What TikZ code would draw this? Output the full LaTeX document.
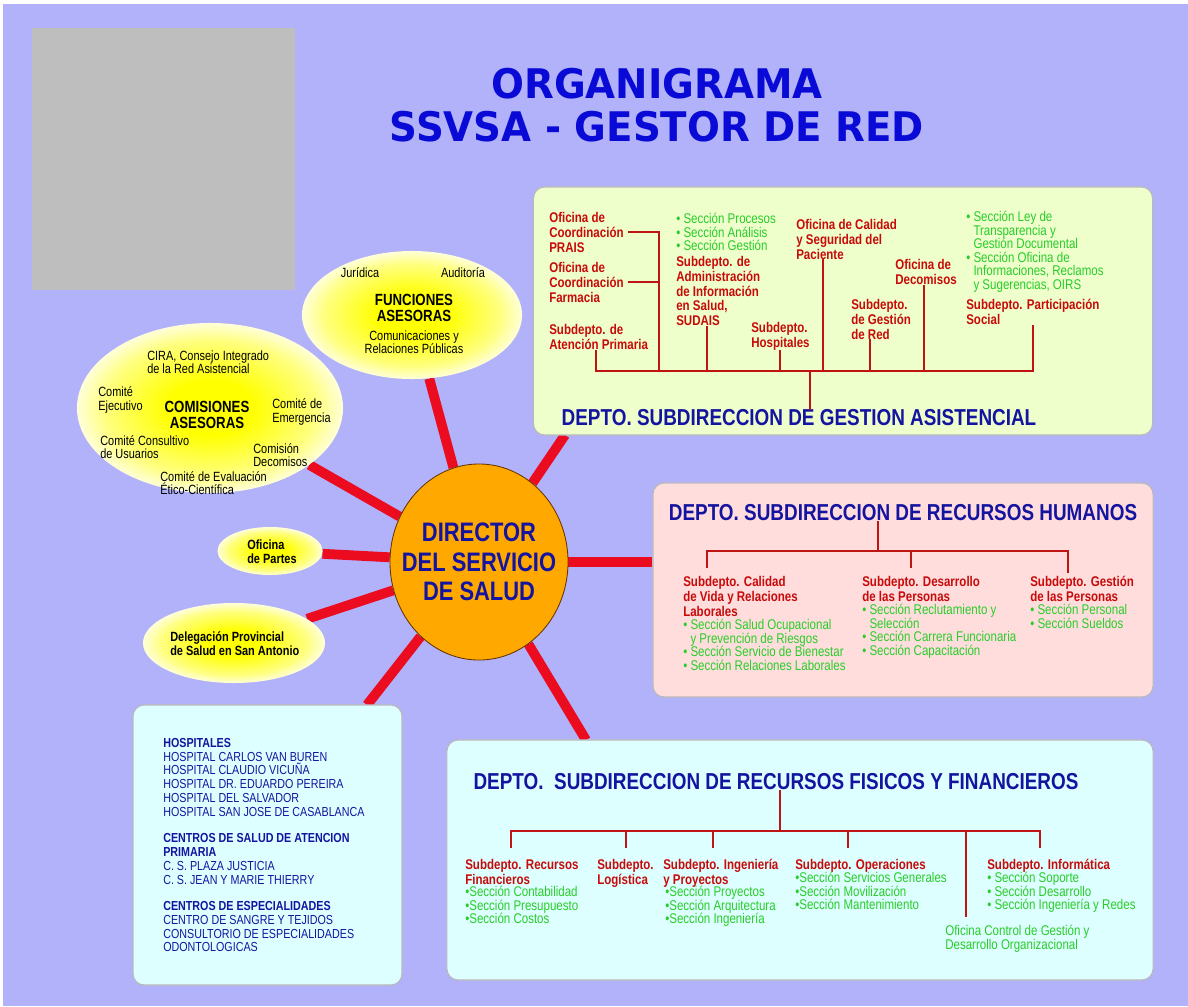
\documentclass[tikz,border=0pt]{standalone}
\usepackage{fontspec}
\setmainfont{Liberation Sans}
\newfontfamily\nar{Liberation Sans}[FakeStretch=0.82]
\newfontfamily\ttl{DejaVu Sans}[FakeStretch=0.95]
\usetikzlibrary{shapes.geometric,calc,backgrounds}

\definecolor{bgblue}{RGB}{178,178,250}
\definecolor{boxgreen}{RGB}{238,255,204}
\definecolor{boxpink}{RGB}{255,221,221}
\definecolor{boxcyan}{RGB}{221,255,255}
\definecolor{logogray}{RGB}{190,190,190}
\definecolor{spokered}{RGB}{236,12,32}
\definecolor{linkred}{RGB}{190,20,20}
\definecolor{subred}{RGB}{200,10,10}
\definecolor{secgreen}{RGB}{40,205,40}
\definecolor{deptblue}{RGB}{20,20,160}
\definecolor{titleblue}{RGB}{10,10,215}
\definecolor{dirorange}{RGB}{255,168,0}
\pgfdeclareradialshading{glow}{\pgfpoint{0bp}{0bp}}{color(0bp)=(yellow); color(8bp)=(yellow); color(20bp)=(yellow!50!white); color(25bp)=(yellow!15!white); color(50bp)=(yellow!15!white)}

\begin{document}
\begin{tikzpicture}[x=0.025cm, y=-0.025cm,
    area/.style={draw=gray!55, line width=0.8pt, rounded corners=8pt, inner sep=0pt},
    asesor/.style={ellipse, shade, shading=glow, inner sep=0pt},
    spoke/.style={draw=spokered, line width=7pt},
    link/.style={draw=linkred, line width=1.3pt},
    sub/.style={anchor=north west, inner sep=0pt, align=left, text=subred, font=\nar\bfseries\fontsize{10}{10.5}\selectfont},
    secc/.style={anchor=north west, inner sep=0pt, align=left, text=secgreen, font=\nar\fontsize{10}{9.6}\selectfont},
    depto/.style={inner sep=0pt, text=deptblue, font=\nar\bfseries\fontsize{16.4}{17}\selectfont},
    txt/.style={inner sep=0pt, align=left, font=\nar\fontsize{9.5}{9.5}\selectfont},
    head/.style={inner sep=0pt, align=center, font=\nar\bfseries\fontsize{11.5}{11.5}\selectfont}
  ]
  \useasboundingbox (0,0) rectangle (1188,1006);

  % logo and title
  \node[fill=logogray, inner sep=0pt, minimum width=6.575cm, minimum height=6.55cm] (logo) at (163.5,159) {};
  \node[align=center, text=titleblue, font=\ttl\bfseries\fontsize{29}{30.5}\selectfont] (title) at (657,105) {ORGANIGRAMA\\SSVSA - GESTOR DE RED};

  % director and advisory bodies
  \node[ellipse, draw=orange!40!black, line width=0.6pt, fill=dirorange, inner sep=0pt, minimum width=4.45cm, minimum height=4.9cm] (dir) at (479,562) {};
  \node[align=center, inner sep=0pt, text=deptblue, font=\nar\bfseries\fontsize{19}{21}\selectfont] (dirt) at (dir) {DIRECTOR\\DEL SERVICIO\\DE SALUD};
  \node[asesor, minimum width=5.5cm, minimum height=3.2cm] (fun) at (412,315) {};
  \node[asesor, minimum width=6.65cm, minimum height=4.25cm] (com) at (210,408) {};
  \node[asesor, minimum width=2.625cm, minimum height=1.2cm] (par) at (270,551) {};
  \node[asesor, minimum width=4.55cm, minimum height=2cm] (del) at (234,643) {};

  \node[txt] (jur) at (360,273) {Jurídica};
  \node[txt] (aud) at (463,273) {Auditoría};
  \node[head] (funt) at (414,308) {FUNCIONES\\ASESORAS};
  \node[txt, align=center] (comrp) at (414,342) {Comunicaciones y\\Relaciones Públicas};

  \node[txt, anchor=west] (cira) at (147,362) {CIRA, Consejo Integrado\\de la Red Asistencial};
  \node[txt, anchor=west] (cej) at (98,400) {Comité\\Ejecutivo};
  \node[head] (comt) at (207,415) {COMISIONES\\ASESORAS};
  \node[txt, anchor=west] (cem) at (272,412) {Comité de\\Emergencia};
  \node[txt, anchor=west] (ccu) at (100,447) {Comité Consultivo\\de Usuarios};
  \node[txt, anchor=west] (cdc) at (253,455) {Comisión\\Decomisos};
  \node[txt, anchor=west] (cev) at (160,483) {Comité de Evaluación\\Ético-Científica};

  \node[txt, anchor=west, font=\nar\bfseries\fontsize{9.5}{10}\selectfont] (partes) at (247,552) {Oficina\\de Partes};
  \node[txt, anchor=west, font=\nar\bfseries\fontsize{9.5}{10}\selectfont] (delsa) at (170,644) {Delegación Provincial\\de Salud en San Antonio};

  % subdireccion de gestion asistencial
  \node[area, fill=boxgreen, minimum width=15.475cm, minimum height=6.2cm] (gsa) at (843,311) {};
  \node[sub] (prais) at (549,212) {Oficina de\\Coordinación\\PRAIS};
  \node[sub] (farm) at (549,262) {Oficina de\\Coordinación\\Farmacia};
  \node[sub] (aps) at (549,324) {Subdepto. de\\Atención Primaria};
  \node[secc] (sudsec) at (676,213) {• Sección Procesos\\• Sección Análisis\\• Sección Gestión};
  \node[sub] (sudais) at (676,256) {Subdepto. de\\Administración\\de Información\\en Salud,\\SUDAIS};
  \node[sub] (hosp) at (751,322) {Subdepto.\\Hospitales};
  \node[sub] (cal) at (796,219) {Oficina de Calidad\\y Seguridad del\\Paciente};
  \node[sub] (red) at (851,299) {Subdepto.\\de Gestión\\de Red};
  \node[sub] (dec) at (895,259) {Oficina de\\Decomisos};
  \node[secc] (ley) at (966,211) {• Sección Ley de\\\phantom{• }Transparencia y\\\phantom{• }Gestión Documental\\• Sección Oficina de\\\phantom{• }Informaciones, Reclamos\\\phantom{• }y Sugerencias, OIRS};
  \node[sub] (part) at (966,299) {Subdepto. Participación\\Social};
  \node[depto] (gsatit) at (799,418) {DEPTO. SUBDIRECCION DE GESTION ASISTENCIAL};
  \coordinate (gbus) at (810,371);
  \coordinate (gv) at (659,371);
  \draw[link] (gbus) -- (gbus |- gsatit.north);
  \draw[link] ([xshift=3pt]prais.east) -| (gv);
  \draw[link] ([xshift=3pt]farm.east) -- (farm.east -| gv);
  \draw[link] ($(aps.south west)+(47,0)$) |- (gbus);
  \draw[link] ($(sudais.south west)+(31,0)$) |- (gbus);
  \draw[link] ($(hosp.south west)+(29,0)$) |- (gbus);
  \draw[link] ($(cal.south west)+(27,0)$) |- (gbus);
  \draw[link] ($(red.south west)+(19,0)$) |- (gbus);
  \draw[link] ($(dec.south west)+(29,0)$) |- (gbus);
  \draw[link] ($(part.south west)+(67,0)$) |- (gbus);

  % subdireccion de recursos humanos
  \node[area, fill=boxpink, minimum width=12.5cm, minimum height=5.35cm] (rh) at (903,590) {};
  \node[depto] (rhtit) at (903,513) {DEPTO. SUBDIRECCION DE RECURSOS HUMANOS};
  \node[sub] (cvida) at (683,576) {Subdepto. Calidad\\de Vida y Relaciones\\Laborales};
  \node[secc] (cvsec) at (683,619) {• Sección Salud Ocupacional\\\phantom{• }y Prevención de Riesgos\\• Sección Servicio de Bienestar\\• Sección Relaciones Laborales};
  \node[sub] (desa) at (862,576) {Subdepto. Desarrollo\\de las Personas};
  \node[secc] (desec) at (862,604) {• Sección Reclutamiento y\\\phantom{• }Selección\\• Sección Carrera Funcionaria\\• Sección Capacitación};
  \node[sub] (gest) at (1030,576) {Subdepto. Gestión\\de las Personas};
  \node[secc] (gesec) at (1030,604) {• Sección Personal\\• Sección Sueldos};
  \coordinate (rbus) at (878,551);
  \draw[link] (rhtit.south -| rbus) -- (rbus);
  \draw[link] ($(cvida.north west)+(24,-8)$) |- (rbus);
  \draw[link] ($(desa.north west)+(49,-8)$) |- (rbus);
  \draw[link] ($(gest.north west)+(38,-3)$) |- (rbus);

  % subdireccion de recursos fisicos y financieros
  \node[area, fill=boxcyan, minimum width=17.65cm, minimum height=6cm] (rf) at (800,860) {};
  \node[depto] (rftit) at (776,782) {DEPTO.\ \ SUBDIRECCION DE RECURSOS FISICOS Y FINANCIEROS};
  \node[sub] (rfin) at (465,859) {Subdepto. Recursos\\Financieros};
  \node[secc] (rfsec) at (465,886) {•Sección Contabilidad\\•Sección Presupuesto\\•Sección Costos};
  \node[sub] (log) at (597,859) {Subdepto.\\Logística};
  \node[sub] (ing) at (663,859) {Subdepto. Ingeniería\\y Proyectos};
  \node[secc] (ingsec) at (665,886) {•Sección Proyectos\\•Sección Arquitectura\\•Sección Ingeniería};
  \node[sub] (ope) at (795,859) {Subdepto. Operaciones};
  \node[secc] (opesec) at (795,872) {•Sección Servicios Generales\\•Sección Movilización\\•Sección Mantenimiento};
  \node[sub] (inf) at (987,859) {Subdepto. Informática};
  \node[secc] (infsec) at (987,872) {• Sección Soporte\\• Sección Desarrollo\\• Sección Ingeniería y Redes};
  \node[secc] (ocg) at (945,925) {Oficina Control de Gestión y\\Desarrollo Organizacional};
  \coordinate (fbus) at (780,831);
  \draw[link] (fbus) -- (fbus |- rftit.south);
  \draw[link] ($(rfin.north west)+(46,-11)$) |- (fbus);
  \draw[link] ($(log.north west)+(29,-11)$) |- (fbus);
  \draw[link] ($(ing.north west)+(50,-11)$) |- (fbus);
  \draw[link] ($(ope.north west)+(53,-11)$) |- (fbus);
  \draw[link] ($(ocg.north west)+(21,-8)$) |- (fbus);
  \draw[link] ($(inf.north west)+(53,-11)$) |- (fbus);

  % establecimientos
  \node[area, fill=boxcyan, minimum width=6.725cm, minimum height=7cm] (est) at (267.5,845) {};
  \node[anchor=north west, inner sep=0pt, align=left, text=deptblue, font=\nar\fontsize{9.3}{9.8}\selectfont] (hlist) at (163,738)
    {\textbf{HOSPITALES}\\HOSPITAL CARLOS VAN BUREN\\HOSPITAL CLAUDIO VICUÑA\\HOSPITAL DR. EDUARDO PEREIRA\\HOSPITAL DEL SALVADOR\\HOSPITAL SAN JOSE DE CASABLANCA\\[9pt]
     \textbf{CENTROS DE SALUD DE ATENCION}\\\textbf{PRIMARIA}\\C. S. PLAZA JUSTICIA\\C. S. JEAN Y MARIE THIERRY\\[9pt]
     \textbf{CENTROS DE ESPECIALIDADES}\\CENTRO DE SANGRE Y TEJIDOS\\CONSULTORIO DE ESPECIALIDADES\\ODONTOLOGICAS};

  % spokes behind everything
  \coordinate (gin) at (565,435);
  \coordinate (fin) at (586,740);
  \coordinate (hin) at (367,705);
  \begin{pgfonlayer}{background}
    \fill[white] (0,0) rectangle (1188,1006);
    \fill[bgblue] (3,4) rectangle (1188,1006);
    \draw[spoke] (dir) -- (fun);
    \draw[spoke] (dir) -- (com);
    \draw[spoke] (dir) -- (par);
    \draw[spoke] (dir) -- (del);
    \draw[spoke] (dir) -- (hin);
    \draw[spoke] (dir) -- (fin);
    \draw[spoke] (dir) -- (dir -| rh.west);
    \draw[spoke] (dir) -- (gin);
  \end{pgfonlayer}
\end{tikzpicture}
\end{document}
